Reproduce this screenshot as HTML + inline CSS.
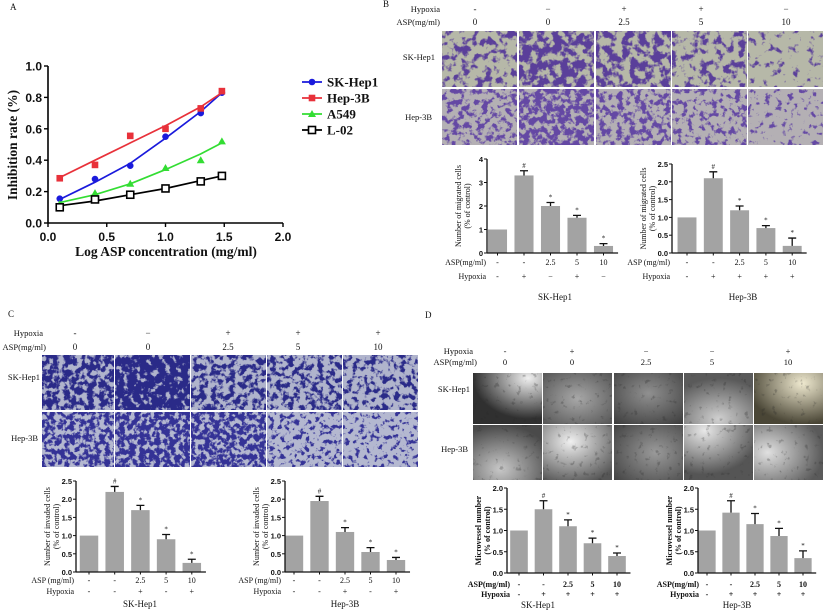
<!DOCTYPE html>
<html><head><meta charset="utf-8">
<style>
html,body{margin:0;padding:0;background:#fff;}
svg{display:block;}
.serif{font-family:"Liberation Serif",serif;}
.sans{font-family:"Liberation Sans",sans-serif;}
</style></head>
<body>
<svg id="fig" width="825" height="613" viewBox="0 0 825 613" xmlns="http://www.w3.org/2000/svg">
<defs id="defs"></defs>
</svg>
<script>
// ---------- Panel A data ----------
const aX = [0.1, 0.4, 0.7, 1.0, 1.3, 1.48];
const aSeriesNames = ["SK-Hep1", "Hep-3B", "A549", "L-02"];
const aSK = [0.155, 0.28, 0.365, 0.55, 0.70, 0.83];
const aHep = [0.285, 0.37, 0.555, 0.60, 0.73, 0.84];
const aA549 = [0.12, 0.19, 0.25, 0.35, 0.40, 0.52];
const aL02 = [0.10, 0.15, 0.18, 0.22, 0.265, 0.30];
const aSKfit = [0.15, 0.26, 0.38, 0.54, 0.71, 0.83];
const aHepfit = [0.29, 0.40, 0.51, 0.62, 0.74, 0.83];
const aA549fit = [0.13, 0.18, 0.25, 0.34, 0.44, 0.51];
const aL02fit = [0.11, 0.14, 0.18, 0.22, 0.27, 0.30];
const aXTicks = [0, 0.5, 1.0, 1.5, 2.0];
const aYTicks = [0, 0.2, 0.4, 0.6, 0.8, 1.0];

// ---------- Bar chart data ----------
const barGroups = ["c1", "c2", "c3", "c4", "c5"];
const aspLabels = ["-", "-", "2.5", "5", "10"];
const bLeftVals = [1.0, 3.3, 2.0, 1.5, 0.3];
const bLeftErr = [0, 0.2, 0.15, 0.1, 0.1];
const bLeftHyp = ["-", "+", "−", "+", "−"];
const bLeftTicks = [0, 1, 2, 3, 4];
const bRightVals = [1.0, 2.1, 1.2, 0.7, 0.2];
const bRightErr = [0, 0.18, 0.12, 0.07, 0.22];
const bRightHyp = ["-", "+", "+", "+", "+"];
const bRightTicks = [0, 0.5, 1.0, 1.5, 2.0, 2.5];
const cLeftVals = [1.0, 2.2, 1.7, 0.9, 0.25];
const cLeftErr = [0, 0.15, 0.13, 0.13, 0.1];
const cRightVals = [1.0, 1.95, 1.1, 0.55, 0.33];
const cRightErr = [0, 0.13, 0.12, 0.12, 0.07];
const cHyp = ["-", "-", "+", "-", "+"];
const cTicks = [0, 0.5, 1.0, 1.5, 2.0, 2.5];
const dLeftVals = [1.0, 1.5, 1.1, 0.7, 0.4];
const dLeftErr = [0, 0.2, 0.15, 0.12, 0.07];
const dRightVals = [1.0, 1.42, 1.15, 0.87, 0.35];
const dRightErr = [0, 0.28, 0.25, 0.18, 0.17];
const dHyp = ["-", "+", "+", "+", "+"];
const dTicks = [0, 0.5, 1.0, 1.5, 2.0];
const sigMarks = ["", "#", "*", "*", "*"];

const NS = "http://www.w3.org/2000/svg";
const svg = document.getElementById("fig");
const defs = document.getElementById("defs");
function mk(tag, attrs, parent) {
  const e = document.createElementNS(NS, tag);
  for (const k in attrs) e.setAttribute(k, attrs[k]);
  (parent || svg).appendChild(e);
  return e;
}
function txt(s, x, y, size, cls, anchor, parent, extra) {
  const t = mk("text", Object.assign({x: x, y: y, "font-size": size, "class": cls, "text-anchor": anchor || "middle", fill: "#111"}, extra || {}), parent);
  t.textContent = s;
  return t;
}

// ---------- Panel labels ----------
[["A", 10, 10], ["B", 383, 7], ["C", 8, 317], ["D", 425, 318]].forEach(p => {
  const t = txt(p[0], p[1], p[2], 9, "serif", "start");
  
  
});

// ---------- Panel A ----------
const gA = mk("g", {});


const ax = v => 48 + v / 2 * 235;
const ay = v => 223 - v * 157;
mk("line", {x1: 48, y1: ay(1.0), x2: 48, y2: 223, stroke: "#000", "stroke-width": 1.6}, gA);
mk("line", {x1: 48, y1: 223, x2: ax(2), y2: 223, stroke: "#000", "stroke-width": 1.6}, gA);
aYTicks.forEach(v => {
  mk("line", {x1: 44, y1: ay(v), x2: 48, y2: ay(v), stroke: "#000", "stroke-width": 1.4}, gA);
  const t = txt(v.toFixed(1), 42, ay(v) + 4.5, 12, "sans", "end", gA, {"font-weight": "bold"});
  
  
});
aXTicks.forEach(v => {
  mk("line", {x1: ax(v), y1: 223, x2: ax(v), y2: 227, stroke: "#000", "stroke-width": 1.4}, gA);
  const t = txt(v.toFixed(1), ax(v), 241, 12, "sans", "middle", gA, {"font-weight": "bold"});
  
  
});
const xt = txt("Log ASP concentration (mg/ml)", 166, 256, 13.5, "serif", "middle", gA, {"font-weight": "bold"});


const yt = txt("Inhibition rate (%)", 0, 0, 13.5, "serif", "middle", gA, {"font-weight": "bold", transform: "translate(17,145) rotate(-90)"});



const aSeries = [
  {pts: aSK, fit: aSKfit, col: "#1a1adc", m: "circle"},
  {pts: aHep, fit: aHepfit, col: "#e8313a", m: "square"},
  {pts: aA549, fit: aA549fit, col: "#33dd33", m: "tri"},
  {pts: aL02, fit: aL02fit, col: "#000", m: "open"}
];
function marker(type, x, y, col, parent) {
  let e;
  if (type === "circle") e = mk("circle", {cx: x, cy: y, r: 3.3, fill: col}, parent);
  else if (type === "square") e = mk("rect", {x: x - 3.3, y: y - 3.3, width: 6.6, height: 6.6, fill: col}, parent);
  else if (type === "tri") e = mk("polygon", {points: `${x},${y - 4} ${x - 4},${y + 3} ${x + 4},${y + 3}`, fill: col}, parent);
  else e = mk("rect", {x: x - 3.5, y: y - 3.5, width: 7, height: 7, fill: "#fff", stroke: col, "stroke-width": 1.6}, parent);
  return e;
}
aSeries.forEach((s, si) => {
  const g = mk("g", {}, gA);
  
  
  const d = s.fit.map((v, i) => (i ? "L" : "M") + ax(aX[i]).toFixed(1) + " " + ay(v).toFixed(1)).join(" ");
  const p = mk("path", {d: d, fill: "none", stroke: s.col, "stroke-width": 1.7}, g);
  
  
  s.pts.forEach((v, i) => {
    const m = marker(s.m, ax(aX[i]), ay(v), s.col, g);
    
    
  });
  const ly = 82 + si * 16;
  const lg = mk("g", {}, gA);
  
  
  mk("line", {x1: 302, y1: ly, x2: 322, y2: ly, stroke: s.col, "stroke-width": 1.7}, lg);
  marker(s.m, 312, ly, s.col, lg);
  txt(aSeriesNames[si], 327, ly + 4.5, 13, "serif", "start", lg, {"font-weight": "bold"});
});

// ---------- Micrograph generation ----------
let filterCount = 0;
function blobFilter(bg, fg, freq, thr, seed) {
  const id = "f" + (filterCount++);
  const f = mk("filter", {id: id, x: "0", y: "0", width: "100%", height: "100%", "color-interpolation-filters": "sRGB"}, defs);
  mk("feTurbulence", {type: "fractalNoise", baseFrequency: freq, numOctaves: 3, seed: seed, result: "n"}, f);
  mk("feColorMatrix", {in: "n", type: "matrix", values: "0 0 0 0 0  0 0 0 0 0  0 0 0 0 0  1 0 0 0 0", result: "a"}, f);
  const ct = mk("feComponentTransfer", {in: "a", result: "t"}, f);
  mk("feFuncA", {type: "linear", slope: 7, intercept: (-7 * thr).toFixed(2)}, ct);
  mk("feFlood", {"flood-color": fg, result: "fg"}, f);
  mk("feComposite", {in: "fg", in2: "t", operator: "in", result: "blobs"}, f);
  mk("feFlood", {"flood-color": bg, result: "bgc"}, f);
  const mg = mk("feMerge", {}, f);
  mk("feMergeNode", {in: "bgc"}, mg);
  mk("feMergeNode", {in: "blobs"}, mg);
  return id;
}
function micro(x, y, w, h, bg, fg, freq, thr, seed, name) {
  const id = blobFilter(bg, fg, freq, thr, seed);
  const r = mk("rect", {x: x, y: y, width: w, height: h, filter: `url(#${id})`, fill: "#000"});
  
  
}
function grayMicro(x, y, w, h, cx, cy, light, dark, name, idx) {
  const gid = "rg" + idx;
  const rg = mk("radialGradient", {id: gid, cx: cx, cy: cy, r: "0.8"}, defs);
  mk("stop", {offset: "0", "stop-color": light}, rg);
  mk("stop", {offset: "1", "stop-color": dark}, rg);
  const r = mk("rect", {x: x, y: y, width: w, height: h, fill: `url(#${gid})`});
  
  
  const id = blobFilter("rgba(0,0,0,0)", "rgba(40,40,40,0.35)", 0.18, 0.64, 10 + idx);
  mk("rect", {x: x, y: y, width: w, height: h, filter: `url(#${id})`, fill: "#000", opacity: 0.8});
}
function headerRow(labels, xs, y, size) {
  labels.forEach((s, i) => {
    const t = txt(s, xs[i], y, size, "serif", "middle");
    
    
  });
}
function rowLabel(s, x, y, anchor) {
  const t = txt(s, x, y, 8.5, "serif", anchor || "end");
  
  
}

// Panel B micrographs
const bColX = [442, 519, 596, 672, 748];
const bColW = 75;
const bHdrX = [475, 548, 624, 701, 786];
rowLabel("Hypoxia", 440, 12); rowLabel("ASP(mg/ml)", 440, 25);
headerRow(["-", "−", "+", "+", "−"], bHdrX, 12, 9);
headerRow(["0", "0", "2.5", "5", "10"], bHdrX, 25, 9);
rowLabel("SK-Hep1", 435, 60); rowLabel("Hep-3B", 432, 120);
const bThrA = [0.50, 0.40, 0.43, 0.50, 0.60];
const bThrB = [0.48, 0.40, 0.47, 0.52, 0.58];
bColX.forEach((x, i) => {
  micro(x, 31, bColW, 56, "#b6b8a8", "#5a3f9a", 0.13, bThrA[i], 1 + i, "micrograph-b-skhep1");
  micro(x, 89, bColW, 56, "#b4b0b4", "#6448a4", 0.17, bThrB[i], 20 + i, "micrograph-b-hep3b");
});

// Panel C micrographs
const cColX = [42, 115, 191, 267, 343];
const cColW = [72, 75, 75, 75, 75];
const cHdrX = [75, 148, 228, 298, 378];
rowLabel("Hypoxia", 43, 336); rowLabel("ASP(mg/ml)", 46, 350);
headerRow(["-", "−", "+", "+", "+"], cHdrX, 336, 9);
headerRow(["0", "0", "2.5", "5", "10"], cHdrX, 350, 9);
rowLabel("SK-Hep1", 40, 380); rowLabel("Hep-3B", 38, 441);
const cThrA = [0.40, 0.30, 0.45, 0.46, 0.50];
const cThrB = [0.42, 0.38, 0.40, 0.52, 0.54];
cColX.forEach((x, i) => {
  micro(x, 355, cColW[i], 55, "#b0b4cc", "#2a2a88", 0.17, cThrA[i], 40 + i, "micrograph-c-skhep1");
  micro(x, 412, cColW[i], 55, "#b4b8d0", "#343296", 0.2, cThrB[i], 60 + i, "micrograph-c-hep3b");
});

// Panel D micrographs
const dColX = [473, 543, 614, 684, 754];
const dColW = 69;
const dHdrX = [505, 572, 646, 712, 788];
rowLabel("Hypoxia", 473, 354); rowLabel("ASP(mg/ml)", 477, 365);
headerRow(["-", "+", "−", "−", "+"], dHdrX, 354, 8.5);
headerRow(["0", "0", "2.5", "5", "10"], dHdrX, 365, 8.5);
rowLabel("SK-Hep1", 470, 392); rowLabel("Hep-3B", 468, 452);
const dLightA = [["0.8", "0.1", "#f0f0f0", "#303030"], ["0.5", "0.5", "#a8a8a8", "#4a4a4a"], ["0.5", "0.4", "#909090", "#3a3a3a"], ["0.5", "0.9", "#d0d0d0", "#5a5a5a"], ["0.7", "0.2", "#f0ead0", "#4a4636"]];
const dLightB = [["0.4", "0.8", "#c8c8c8", "#4a4a4a"], ["0.4", "0.3", "#f0f0f0", "#555"], ["0.6", "0.5", "#9a9a9a", "#404040"], ["0.3", "0.1", "#e8e8e8", "#555"], ["0.2", "0.5", "#e0e0e0", "#5a5a5a"]];
dColX.forEach((x, i) => {
  grayMicro(x, 373, dColW, 51, dLightA[i][0], dLightA[i][1], dLightA[i][2], dLightA[i][3], "micrograph-d-skhep1", i);
  grayMicro(x, 425, dColW, 55, dLightB[i][0], dLightB[i][1], dLightB[i][2], dLightB[i][3], "micrograph-d-hep3b", 5 + i);
});

// ---------- Bar charts ----------
function barChart(cfg) {
  const g = mk("g", {});
  
  
  const ymax = cfg.ticks[cfg.ticks.length - 1];
  const yp = v => cfg.y0 - v / ymax * (cfg.y0 - cfg.yTop);
  const xp = i => cfg.axisX + cfg.off + i * cfg.step;
  const xEnd = xp(barGroups.length - 1) + cfg.step * 0.55;
  const bw = cfg.step * 0.72;
  cfg.vals.forEach((v, i) => {
    const b = mk("rect", {x: xp(i) - bw / 2, y: yp(v), width: bw, height: cfg.y0 - yp(v), fill: "#a3a3a3"}, g);
    
    
    const e = cfg.err[i];
    if (e > 0) {
      const top = yp(v + e);
      const eb = mk("path", {d: `M${xp(i)} ${yp(v)} L${xp(i)} ${top} M${xp(i) - 4} ${top} L${xp(i) + 4} ${top}`, stroke: "#111", "stroke-width": 1.3, fill: "none"}, g);
      
      
    }
    if (sigMarks[i]) {
      const s = txt(sigMarks[i], xp(i), yp(v + e) - 3, 7, "serif", "middle", g);
      
      
    }
    txt(aspLabels[i], xp(i), cfg.rowY[0], 8, "serif", "middle", g, cfg.bold ? {"font-weight": "bold"} : {});
    txt(cfg.hyp[i], xp(i), cfg.rowY[1], 8, "serif", "middle", g, cfg.bold ? {"font-weight": "bold"} : {});
  });
  mk("line", {x1: cfg.axisX, y1: cfg.yTop, x2: cfg.axisX, y2: cfg.y0, stroke: "#111", "stroke-width": 1.3}, g);
  mk("line", {x1: cfg.axisX, y1: cfg.y0, x2: xEnd, y2: cfg.y0, stroke: "#111", "stroke-width": 1.3}, g);
  cfg.ticks.forEach(v => {
    mk("line", {x1: cfg.axisX - 3, y1: yp(v), x2: cfg.axisX, y2: yp(v), stroke: "#111", "stroke-width": 1}, g);
    const t = txt(cfg.intTicks ? String(v) : v.toFixed(1), cfg.axisX - 4, yp(v) + 3, 7.5, "sans", "end", g, {"font-weight": "bold"});
    
    
  });
  for (let i = 0; i < barGroups.length; i++) mk("line", {x1: xp(i), y1: cfg.y0, x2: xp(i), y2: cfg.y0 + 2.5, stroke: "#111", "stroke-width": 1}, g);
  const bs = cfg.bold ? {"font-weight": "bold"} : {};
  txt(cfg.aspLabel, cfg.axisX + cfg.labDx, cfg.rowY[0], 8, "serif", "end", g, bs);
  txt("Hypoxia", cfg.axisX + cfg.labDx, cfg.rowY[1], 8, "serif", "end", g, bs);
  const nm = txt(cfg.cell, cfg.nameX, cfg.rowY[2], 9, "serif", "middle", g);
  
  
  const cy = (cfg.yTop + cfg.y0) / 2;
  const yt1 = txt(cfg.title[0], 0, 0, 8, "serif", "middle", g, Object.assign({transform: `translate(${cfg.axisX - 26},${cy}) rotate(-90)`}, bs));
  
  
  txt(cfg.title[1], 0, 0, 8, "serif", "middle", g, Object.assign({transform: `translate(${cfg.axisX - 17},${cy}) rotate(-90)`}, bs));
}
const migT = ["Number of migrated cells", "(% of control)"];
const invT = ["Number of invaded cells", "(% of control)"];
const micT = ["Microvessel number", "(% of control)"];
barChart({name: "panel-b-skhep1-bars", axisX: 487, off: 10.5, step: 26.5, yTop: 159, y0: 253, ticks: bLeftTicks, intTicks: true, vals: bLeftVals, err: bLeftErr, hyp: bLeftHyp, rowY: [265, 279, 300], aspLabel: "ASP(mg/ml)", labDx: -1, cell: "SK-Hep1", nameX: 555, title: migT});
barChart({name: "panel-b-hep3b-bars", axisX: 672, off: 15, step: 26.3, yTop: 164, y0: 253, ticks: bRightTicks, vals: bRightVals, err: bRightErr, hyp: bRightHyp, rowY: [265, 279, 300], aspLabel: "ASP (mg/ml)", labDx: -2, cell: "Hep-3B", nameX: 743, title: migT});
barChart({name: "panel-c-skhep1-bars", axisX: 76, off: 13, step: 25.7, yTop: 481, y0: 572, ticks: cTicks, vals: cLeftVals, err: cLeftErr, hyp: cHyp, rowY: [583, 594, 607], aspLabel: "ASP (mg/ml)", labDx: -2, cell: "SK-Hep1", nameX: 140, title: invT});
barChart({name: "panel-c-hep3b-bars", axisX: 285, off: 9, step: 25.5, yTop: 481, y0: 572, ticks: cTicks, vals: cRightVals, err: cRightErr, hyp: cHyp, rowY: [583, 594, 607], aspLabel: "ASP (mg/ml)", labDx: -4, cell: "Hep-3B", nameX: 345, title: invT});
barChart({name: "panel-d-skhep1-bars", axisX: 507, off: 12, step: 24.5, yTop: 488, y0: 573, ticks: dTicks, vals: dLeftVals, err: dLeftErr, hyp: dHyp, rowY: [587, 597, 608], aspLabel: "ASP(mg/ml)", labDx: 3, cell: "SK-Hep1", nameX: 538, title: micT, bold: true});
barChart({name: "panel-d-hep3b-bars", axisX: 698, off: 9, step: 24, yTop: 488, y0: 573, ticks: dTicks, vals: dRightVals, err: dRightErr, hyp: dHyp, rowY: [587, 597, 608], aspLabel: "ASP(mg/ml)", labDx: 1, cell: "Hep-3B", nameX: 737, title: micT, bold: true});
</script>
</body></html>
